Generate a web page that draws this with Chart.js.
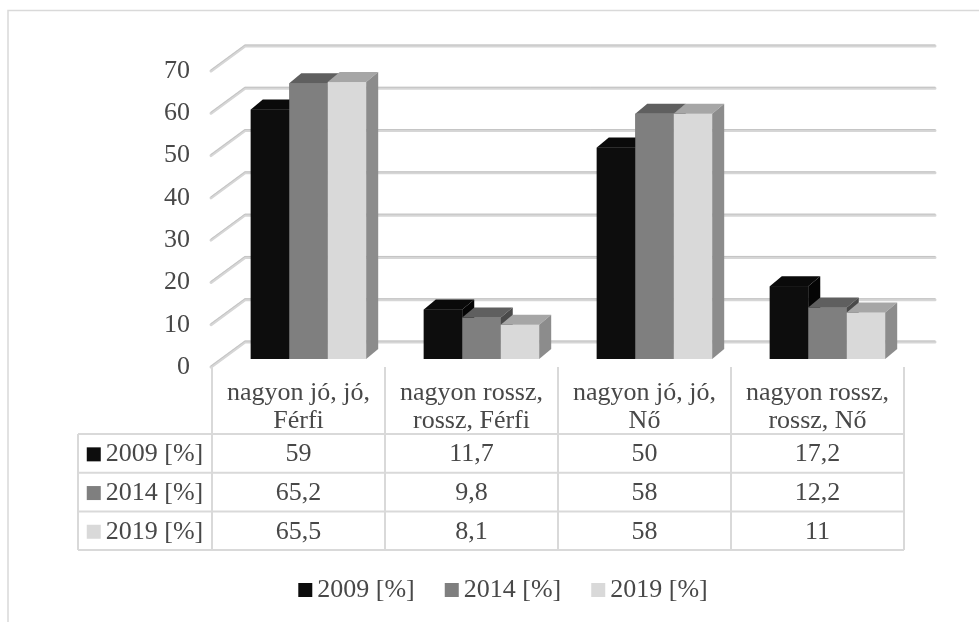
<!DOCTYPE html>
<html>
<head>
<meta charset="utf-8">
<script src="https://cdn.jsdelivr.net/npm/chart.js@4"></script>
<style>
  body { margin: 0; background: #fff; }
  canvas { display: block; }
</style>
</head>
<body>
<canvas id="theChart" width="979" height="622"></canvas>
<script>
const categories = [['nagyon jó, jó,', 'Férfi'], ['nagyon rossz,', 'rossz, Férfi'], ['nagyon jó, jó,', 'Nő'], ['nagyon rossz,', 'rossz, Nő']];
const seriesNames = ['2009 [%]', '2014 [%]', '2019 [%]'];
const values2009 = [59, 11.7, 50, 17.2];
const values2014 = [65.2, 9.8, 58, 12.2];
const values2019 = [65.5, 8.1, 58, 11];
const yTicks = [0, 10, 20, 30, 40, 50, 60, 70];

const frontColors = ['#0d0d0d', '#7f7f7f', '#d9d9d9'];
const topColors = ['#0a0a0a', '#5f5f5f', '#a6a6a6'];
const sideColors = ['#050505', '#4a4a4a', '#8c8c8c'];

const FONT = '"Liberation Serif", "Times New Roman", serif';
const FSIZE = 26;
const TEXT = '#484848';
const LINE = '#d9d9d9';

// fake perspective: back wall sits up/right of the bars, bars have a small depth
const wallDx = 23, wallDy = -17;
const floorDx = -11, floorDy = 8;
const barDx = 12, barDy = -10;

function fmt(v) {
  return String(v).replace('.', ',');
}

const fake3d = {
  id: 'fake3d',
  beforeDraw(chart) {
    const ctx = chart.ctx;
    ctx.save();
    ctx.strokeStyle = LINE;
    ctx.lineWidth = 1.5;
    ctx.beginPath();
    ctx.moveTo(8, 622);
    ctx.lineTo(8, 10.5);
    ctx.lineTo(979, 10.5);
    ctx.stroke();
    ctx.restore();
  },
  beforeDatasetsDraw(chart) {
    const {ctx, chartArea: a, scales: {y}} = chart;
    ctx.save();
    ctx.lineCap = 'round';
    y.ticks.forEach(t => {
      const py = y.getPixelForValue(t.value);
      const bx = a.left + wallDx, by = py + wallDy;
      ctx.beginPath();
      ctx.moveTo(a.left + floorDx, py + floorDy);
      ctx.lineTo(bx, by);
      ctx.lineTo(a.right + 21, by);
      ctx.lineWidth = 3;
      ctx.strokeStyle = '#d6d6d6';
      ctx.stroke();
      ctx.beginPath();
      ctx.moveTo(a.left + floorDx, py + floorDy - 1);
      ctx.lineTo(bx, by - 1);
      ctx.lineTo(a.right + 21, by - 1);
      ctx.lineWidth = 1;
      ctx.strokeStyle = '#c4c4c4';
      ctx.stroke();
    });
    ctx.restore();
  },
  afterDatasetsDraw(chart) {
    const ctx = chart.ctx;
    ctx.save();
    // draw per category, left to right, so each bar hides the side of the one before
    for (let i = 0; i < categories.length; i++) {
      chart.data.datasets.forEach((ds, d) => {
        const el = chart.getDatasetMeta(d).data[i];
        const {x, y, base, width} = el.getProps(['x', 'y', 'base', 'width'], true);
        const l = x - width / 2, r = x + width / 2;
        ctx.fillStyle = frontColors[d];
        ctx.fillRect(l, y, width, base - y);
        ctx.fillStyle = topColors[d];
        ctx.beginPath();
        ctx.moveTo(l, y);
        ctx.lineTo(l + barDx, y + barDy);
        ctx.lineTo(r + barDx, y + barDy);
        ctx.lineTo(r, y);
        ctx.closePath();
        ctx.fill();
        ctx.fillStyle = sideColors[d];
        ctx.beginPath();
        ctx.moveTo(r, y);
        ctx.lineTo(r + barDx, y + barDy);
        ctx.lineTo(r + barDx, base + barDy);
        ctx.lineTo(r, base);
        ctx.closePath();
        ctx.fill();
      });
    }
    ctx.restore();
  },
  afterDraw(chart) {
    const {ctx, chartArea: a} = chart;
    const n = categories.length;
    const w = (a.right - a.left) / n;
    const tl = a.left - 10;
    const top = a.bottom + 8;
    const headBottom = a.bottom + 75;
    const rowH = 38.7;
    const rows = chart.data.datasets;
    const tableBottom = headBottom + rowH * rows.length;
    const labLeft = 78;
    ctx.save();
    ctx.strokeStyle = LINE;
    ctx.lineWidth = 2;
    ctx.beginPath();
    for (let i = 0; i <= n; i++) {
      ctx.moveTo(tl + i * w, top);
      ctx.lineTo(tl + i * w, tableBottom);
    }
    for (let r = 0; r <= rows.length; r++) {
      ctx.moveTo(labLeft, headBottom + r * rowH);
      ctx.lineTo(tl + n * w, headBottom + r * rowH);
    }
    ctx.moveTo(labLeft, headBottom);
    ctx.lineTo(labLeft, tableBottom);
    ctx.stroke();

    ctx.font = FSIZE + 'px ' + FONT;
    ctx.fillStyle = TEXT;
    ctx.textBaseline = 'middle';
    ctx.textAlign = 'center';
    categories.forEach((lines, i) => {
      lines.forEach((s, k) => ctx.fillText(s, tl + (i + 0.5) * w, a.bottom + 34 + k * 28));
    });
    rows.forEach((ds, r) => {
      const cy = headBottom + (r + 0.5) * rowH + 1;
      ds.data.forEach((v, i) => {
        ctx.fillStyle = TEXT;
        ctx.fillText(fmt(v), tl + (i + 0.5) * w, cy);
      });
      const tw = ctx.measureText(ds.label).width;
      const total = 14 + 5 + tw;
      const sx = (labLeft + tl) / 2 - total / 2;
      ctx.fillStyle = frontColors[r];
      ctx.fillRect(sx, cy - 7, 14, 14);
      ctx.fillStyle = TEXT;
      ctx.textAlign = 'left';
      ctx.fillText(ds.label, sx + 19, cy);
      ctx.textAlign = 'center';
    });

    // legend under the table
    const widths = rows.map(ds => 14 + 5 + ctx.measureText(ds.label).width);
    const gap = 30;
    const totalW = widths.reduce((s, v) => s + v, 0) + gap * (rows.length - 1);
    let lx = 503 - totalW / 2;
    const ly = 590;
    ctx.textAlign = 'left';
    rows.forEach((ds, r) => {
      ctx.fillStyle = frontColors[r];
      ctx.fillRect(lx, ly - 7, 14, 14);
      ctx.fillStyle = TEXT;
      ctx.fillText(ds.label, lx + 19, ly);
      lx += widths[r] + gap;
    });
    ctx.restore();
  }
};

const chart = document.getElementById('theChart').getContext('2d');
new Chart(chart, {
  type: 'bar',
  data: {
    labels: categories,
    datasets: [
      { label: seriesNames[0], data: values2009, backgroundColor: frontColors[0] },
      { label: seriesNames[1], data: values2014, backgroundColor: frontColors[1] },
      { label: seriesNames[2], data: values2019, backgroundColor: frontColors[2] }
    ]
  },
  options: {
    responsive: false,
    animation: false,
    layout: { padding: { left: 0, right: 65, top: 63, bottom: 0 } },
    datasets: { bar: { categoryPercentage: 0.667, barPercentage: 1, borderWidth: 0 } },
    plugins: { legend: { display: false }, tooltip: { enabled: false } },
    scales: {
      x: {
        ticks: { display: false },
        grid: { display: false, drawTicks: false },
        border: { display: false },
        afterFit(s) { s.height = 263; }
      },
      y: {
        min: 0,
        max: 70,
        afterBuildTicks(s) { s.ticks = yTicks.map(v => ({ value: v })); },
        ticks: { padding: 32, labelOffset: 8, color: TEXT, font: { family: FONT, size: FSIZE } },
        grid: { display: false, drawTicks: false },
        border: { display: false },
        afterFit(s) { s.width = 222; }
      }
    }
  },
  plugins: [fake3d]
});
</script>
</body>
</html>
